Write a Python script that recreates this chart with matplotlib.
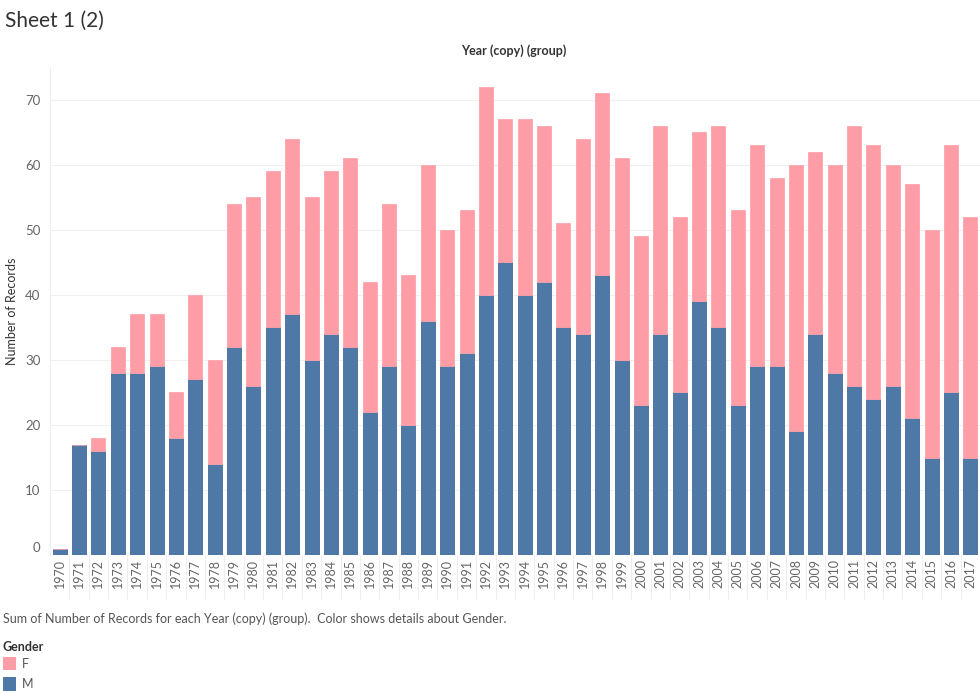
import matplotlib.pyplot as plt
import matplotlib.transforms as mtransforms
from matplotlib.patches import Rectangle

plt.rcParams['font.family'] = ['Lato', 'DejaVu Sans']

years = [str(y) for y in range(1970, 2018)]
male = [1, 17, 16, 28, 28, 29, 18, 27, 14, 32, 26, 35, 37, 30, 34, 32, 22, 29, 20, 36,
        29, 31, 40, 45, 40, 42, 35, 34, 43, 30, 23, 34, 25, 39, 35, 23, 29, 29, 19, 34,
        28, 26, 24, 26, 21, 15, 25, 15]
total = [1, 17, 18, 32, 37, 37, 25, 40, 30, 54, 55, 59, 64, 55, 59, 61, 42, 54, 43, 60,
         50, 53, 72, 67, 67, 66, 51, 64, 71, 61, 49, 66, 52, 65, 66, 53, 63, 58, 60, 62,
         60, 66, 63, 60, 57, 50, 63, 52]
female = [t - m for t, m in zip(total, male)]
yticks = [0, 10, 20, 30, 40, 50, 60, 70]

blue = '#4e79a7'
pink = '#ff9da7'

fig = plt.figure(figsize=(9.8, 6.93), dpi=100)
ax = fig.add_axes([0.051, 0.199, 0.949, 0.704])

x = range(len(years))
ax.bar(x, male, width=0.72, color=blue, edgecolor='#44699a', linewidth=0.6, zorder=3)
ax.bar(x, female, width=0.72, bottom=male, color=pink, edgecolor='#fda4ad', linewidth=0.6, zorder=3)

ax.set_xlim(-0.5, len(years) - 0.5)
ax.set_ylim(0, 75)
ax.set_yticks(yticks)
ax.set_xticks(list(x))
ax.set_xticklabels(years, rotation=90, fontsize=9, color='#666666')
ax.set_xticks([i + 0.5 for i in x][:-1], minor=True)
ax.tick_params(axis='x', which='major', length=0, pad=3)
ax.tick_params(axis='x', which='minor', length=32, color='#eeeeee', width=0.8)
ax.tick_params(axis='y', length=0, labelsize=9.5, labelcolor='#666666', pad=7)
# tableau nudges the zero label up
zero_lab = ax.get_yticklabels()[0]
zero_lab.set_transform(zero_lab.get_transform() +
                       mtransforms.ScaledTranslation(0, 8 / 100, fig.dpi_scale_trans))

ax.grid(axis='y', color='#f0f0f0', linewidth=0.8, zorder=0)
for s in ['top', 'right', 'bottom']:
    ax.spines[s].set_visible(False)
ax.spines['left'].set_color('#eeeeee')

ax.set_ylabel('Number of Records', fontsize=9, color='#333333', labelpad=5)

fig.text(0.005, 0.97, 'Sheet 1 (2)', fontsize=15, color='#333333', va='center')
fig.text(0.524, 0.927, 'Year (copy) (group)', fontsize=9, color='#333333',
         ha='center', va='center', fontweight='bold')
fig.text(0.003, 0.107, 'Sum of Number of Records for each Year (copy) (group).  Color shows details about Gender.',
         fontsize=9, color='#555555', va='center')
fig.text(0.003, 0.066, 'Gender', fontsize=9, color='#333333', va='center', fontweight='bold')

legend_items = [('F', pink), ('M', blue)]
for i, (name, col) in enumerate(legend_items):
    yy = 0.042 - i * 0.029
    fig.patches.append(Rectangle((0.003, yy - 0.0095), 0.013, 0.019, transform=fig.transFigure,
                                 facecolor=col, edgecolor='none'))
    fig.text(0.022, yy, name, fontsize=9, color='#555555', va='center')

plt.savefig('out.png', dpi=100)
